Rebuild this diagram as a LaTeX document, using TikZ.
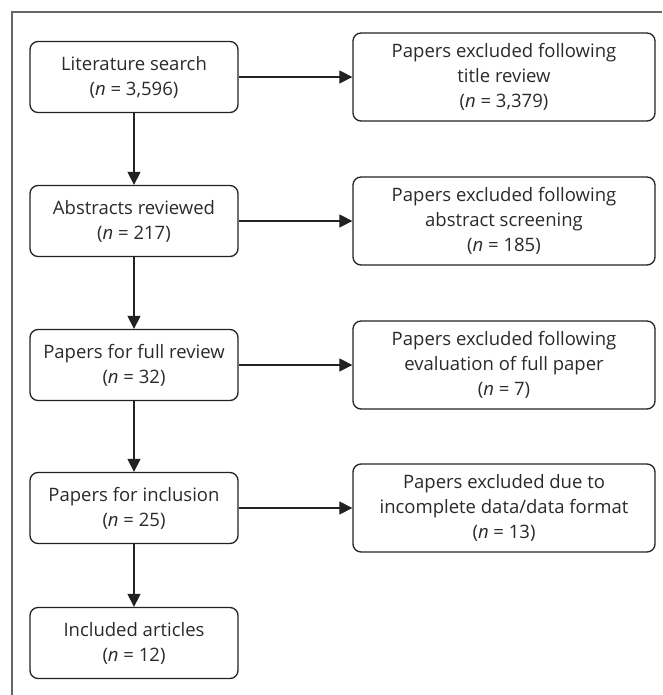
\documentclass[tikz,border=0pt]{standalone}
\usepackage{fontspec}
\setmainfont{Open Sans}
\usetikzlibrary{arrows.meta}
\definecolor{txt}{HTML}{2A2A2A}
\definecolor{ln}{HTML}{222222}
\definecolor{frame}{HTML}{666666}
\begin{document}
\begin{tikzpicture}[x=1pt,y=-1pt,
  basebox/.style={draw=ln, line width=1.3pt, rounded corners=8pt, align=center,
    text=txt, font=\fontsize{18.5}{25}\selectfont, inner sep=0pt},
  leftbox/.style={basebox, minimum width=208pt, minimum height=71pt},
  rightbox/.style={basebox, minimum width=302pt, minimum height=88pt},
  flow/.style={draw=ln, line width=1.2pt, -{Triangle[length=13pt,width=13pt]}}]
\useasboundingbox (0,0) rectangle (662,695);
\draw[frame, line width=1.5pt] (12,695) -- (12,12) -- (662,12);
\node[leftbox] (a) at (134,77) {Literature search\\(\textit{n} = 3,596)};
\node[leftbox] (b) at (134,221) {Abstracts reviewed\\(\textit{n} = 217)};
\node[leftbox] (c) at (134,365) {Papers for full review\\(\textit{n} = 32)};
\node[leftbox] (d) at (134,508) {Papers for inclusion\\(\textit{n} = 25)};
\node[leftbox] (e) at (134,643) {Included articles\\(\textit{n} = 12)};
\node[rightbox] (ra) at (504,77) {Papers excluded following\\title review\\(\textit{n} = 3,379)};
\node[rightbox] (rb) at (504,221) {Papers excluded following\\abstract screening\\(\textit{n} = 185)};
\node[rightbox] (rc) at (504,365) {Papers excluded following\\evaluation of full paper\\(\textit{n} = 7)};
\node[rightbox] (rd) at (504,508) {Papers excluded due to\\incomplete data/data format\\(\textit{n} = 13)};
\draw[flow] (a) -- (b);
\draw[flow] (b) -- (c);
\draw[flow] (c) -- (d);
\draw[flow] (d) -- (e);
\draw[flow] (a) -- (ra);
\draw[flow] (b) -- (rb);
\draw[flow] (c) -- (rc);
\draw[flow] (d) -- (rd);
\end{tikzpicture}
\end{document}
